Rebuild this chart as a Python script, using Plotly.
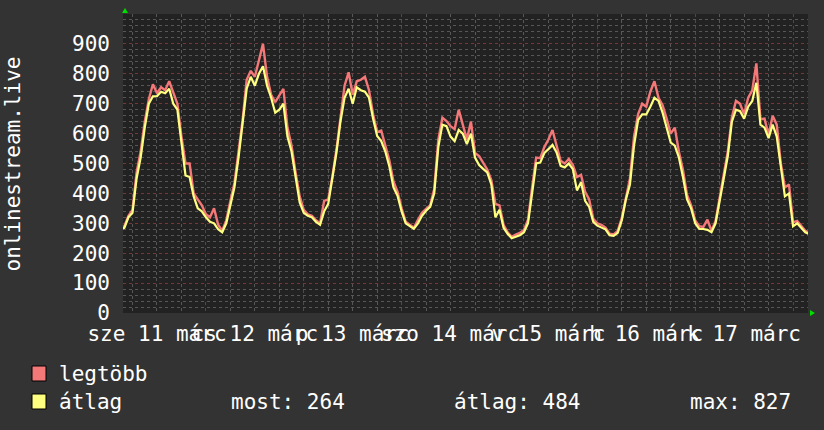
import pandas as pd
import plotly.graph_objects as go

# ---- data (hourly samples, starting 2020-03-11 03:00) ----
start_time = "2020-03-11 03:00"
avg_values = [
    280, 285, 320, 335, 450, 520, 620, 700, 725, 725, 740, 735, 750, 700, 680, 560, 460, 455, 390, 350, 340,
    320, 305, 300, 280, 270, 300, 360, 420, 520, 630, 750, 790, 760, 800, 825, 760, 720, 670, 680, 700, 590, 540, 450,
    370, 335, 325, 320, 305, 295, 340, 365, 445, 535, 640, 720, 750, 700, 755, 745, 740, 720, 650, 592, 575, 540, 490, 420,
    392, 340, 300, 290, 282, 300, 325, 342, 355, 400, 555, 630, 625, 590, 575, 612, 600, 565, 600, 520, 495, 482, 470, 430,
    320, 345, 285, 265, 250, 255, 260, 270, 300, 400, 500, 503, 535, 548, 562, 537, 492, 487, 500, 481, 410, 437, 375, 355,
    305, 292, 287, 280, 260, 258, 268, 310, 380, 430, 560, 645, 664, 664, 690, 720, 709, 670, 620, 570, 560, 520, 455, 380,
    350, 300, 281, 281, 278, 270, 300, 370, 450, 525, 640, 680, 675, 650, 690, 709, 770, 630, 620, 585, 630, 590, 480, 390,
    400, 290, 300, 285, 270, 264,
]
max_values = [
    285, 290, 325, 345, 470, 540, 640, 715, 765, 735, 755, 745, 775, 740, 700, 590, 500, 500, 400, 380, 360,
    330, 320, 350, 295, 275, 310, 375, 435, 540, 645, 780, 810, 790, 850, 900, 790, 730, 705, 730, 750, 620, 560, 470,
    390, 345, 330, 325, 310, 300, 375, 380, 455, 545, 650, 760, 805, 730, 775, 780, 790, 745, 665, 605, 610, 555, 510, 440,
    405, 350, 305, 295, 285, 312, 335, 348, 360, 415, 580, 653, 642, 625, 615, 680, 630, 580, 640, 535, 525, 503, 480, 445,
    365, 360, 295, 270, 255, 262, 268, 278, 312, 420, 520, 518, 555, 580, 612, 560, 509, 500, 515, 495, 455, 462, 405, 380,
    315, 300, 295, 286, 265, 263, 275, 318, 390, 450, 590, 665, 700, 690, 740, 775, 720, 695, 650, 600, 620, 540, 478, 395,
    360, 310, 290, 288, 312, 275, 308, 385, 465, 540, 655, 710, 700, 665, 720, 745, 835, 648, 650, 595, 660, 630, 500, 420,
    430, 303, 308, 290, 275, 268,
]
day_labels = ["sze 11 márc", "cs 12 márc", "p 13 márc", "szo 14 márc", "v 15 márc", "h 16 márc", "k 17 márc"]
label_noon_first = "2020-03-11 12:00"
y_tick_values = [0, 100, 200, 300, 400, 500, 600, 700, 800, 900]
series_names = ["legtöbb", "átlag"]
legend_stats = ["most: 264", "átlag: 484", "max: 827"]
axis_title = "onlinestream.live"
x_range = ["2020-03-11 03:40", "2020-03-18 03:40"]

times_avg = pd.date_range(start_time, periods=len(avg_values), freq="h")
times_max = pd.date_range(start_time, periods=len(max_values), freq="h")
label_times = pd.date_range(label_noon_first, periods=len(day_labels), freq="D")

RED = "#f47878"
YEL = "#ffff80"
FONT = dict(family="DejaVu Sans Mono", size=21, color="#ffffff")

fig = go.Figure()
fig.add_trace(go.Scatter(x=times_max, y=max_values, mode="lines", line=dict(color=RED, width=2.4, shape="linear"),
                         name=series_names[0], showlegend=False, hoverinfo="skip"))
fig.add_trace(go.Scatter(x=times_avg, y=avg_values, mode="lines", line=dict(color=YEL, width=2.2, shape="linear"),
                         name=series_names[1], showlegend=False, hoverinfo="skip"))
# carrier trace for the label axis
fig.add_trace(go.Scatter(x=[times_avg[0]], y=[None], xaxis="x2", showlegend=False, hoverinfo="skip"))

W, H = 824, 430
L, R, T, B = 123, 16, 14, 117
pw, ph = W - L - R, H - T - B

def px(xp):
    return (xp - L) / pw

def py(yp):
    return (H - B - yp) / ph

fig.update_layout(
    width=W, height=H,
    margin=dict(l=L, r=R, t=T, b=B, pad=0),
    paper_bgcolor="#333333", plot_bgcolor="#222222",
    font=FONT,
    showlegend=False,
    xaxis=dict(type="date", range=x_range, showticklabels=False, ticks="",
               tick0="2020-03-11", dtick=86400000, showgrid=True, gridcolor="#7a3535", griddash="dot", gridwidth=1,
               minor=dict(dtick=6 * 3600000, tick0="2020-03-11", showgrid=True, gridcolor="#575757", griddash="dot", gridwidth=1),
               zeroline=False, showline=False),
    xaxis2=dict(type="date", overlaying="x", matches="x", side="bottom", tickmode="array",
                tickvals=label_times, ticktext=day_labels, tickangle=0, showgrid=False, ticks="",
                tickfont=FONT, ticklabelstandoff=6, zeroline=False, showline=False),
    yaxis=dict(range=[0, 1000], tickmode="array", tickvals=y_tick_values, ticks="",
               showgrid=True, gridcolor="#7a3535", griddash="dot", gridwidth=1,
               minor=dict(dtick=20, tick0=0, showgrid=True, gridcolor="#575757", griddash="dot", gridwidth=1),
               tickfont=FONT, ticklabelstandoff=12, zeroline=False, showline=False),
)

# y axis title (rotated)
fig.add_annotation(text=axis_title, xref="paper", yref="paper", x=px(12), y=0.5, textangle=-90,
                   showarrow=False, xanchor="center", yanchor="middle", font=FONT)

# axis arrows
fig.add_shape(type="path", xref="paper", yref="paper", xsizemode="pixel", ysizemode="pixel",
              xanchor=0, yanchor=1, path="M -1,1 L 5,1 L 2,6 Z", fillcolor="#00e000", line=dict(width=0))
fig.add_shape(type="path", xref="paper", yref="paper", xsizemode="pixel", ysizemode="pixel",
              xanchor=1, yanchor=0, path="M 2,-3 L 2,3 L 7,0 Z", fillcolor="#00e000", line=dict(width=0))

# legend
for i, (name, col) in enumerate(zip(series_names, [RED, YEL])):
    ytop = 366 + i * 28
    fig.add_shape(type="rect", xref="paper", yref="paper", x0=px(32), x1=px(46), y0=py(ytop), y1=py(ytop + 15),
                  fillcolor=col, line=dict(color="#000000", width=1))
    fig.add_annotation(text=name, xref="paper", yref="paper", x=px(57), y=py(ytop + 8), xanchor="left",
                       yanchor="middle", showarrow=False, font=FONT)
for txt, xl in zip(legend_stats, [229, 452, 688]):
    fig.add_annotation(text=txt, xref="paper", yref="paper", x=px(xl), y=py(366 + 28 + 8), xanchor="left",
                       yanchor="middle", showarrow=False, font=FONT)

fig.write_html("out.html", config={"displayModeBar": False},
               post_script="document.body.style.margin='0';document.body.style.overflow='hidden';")
